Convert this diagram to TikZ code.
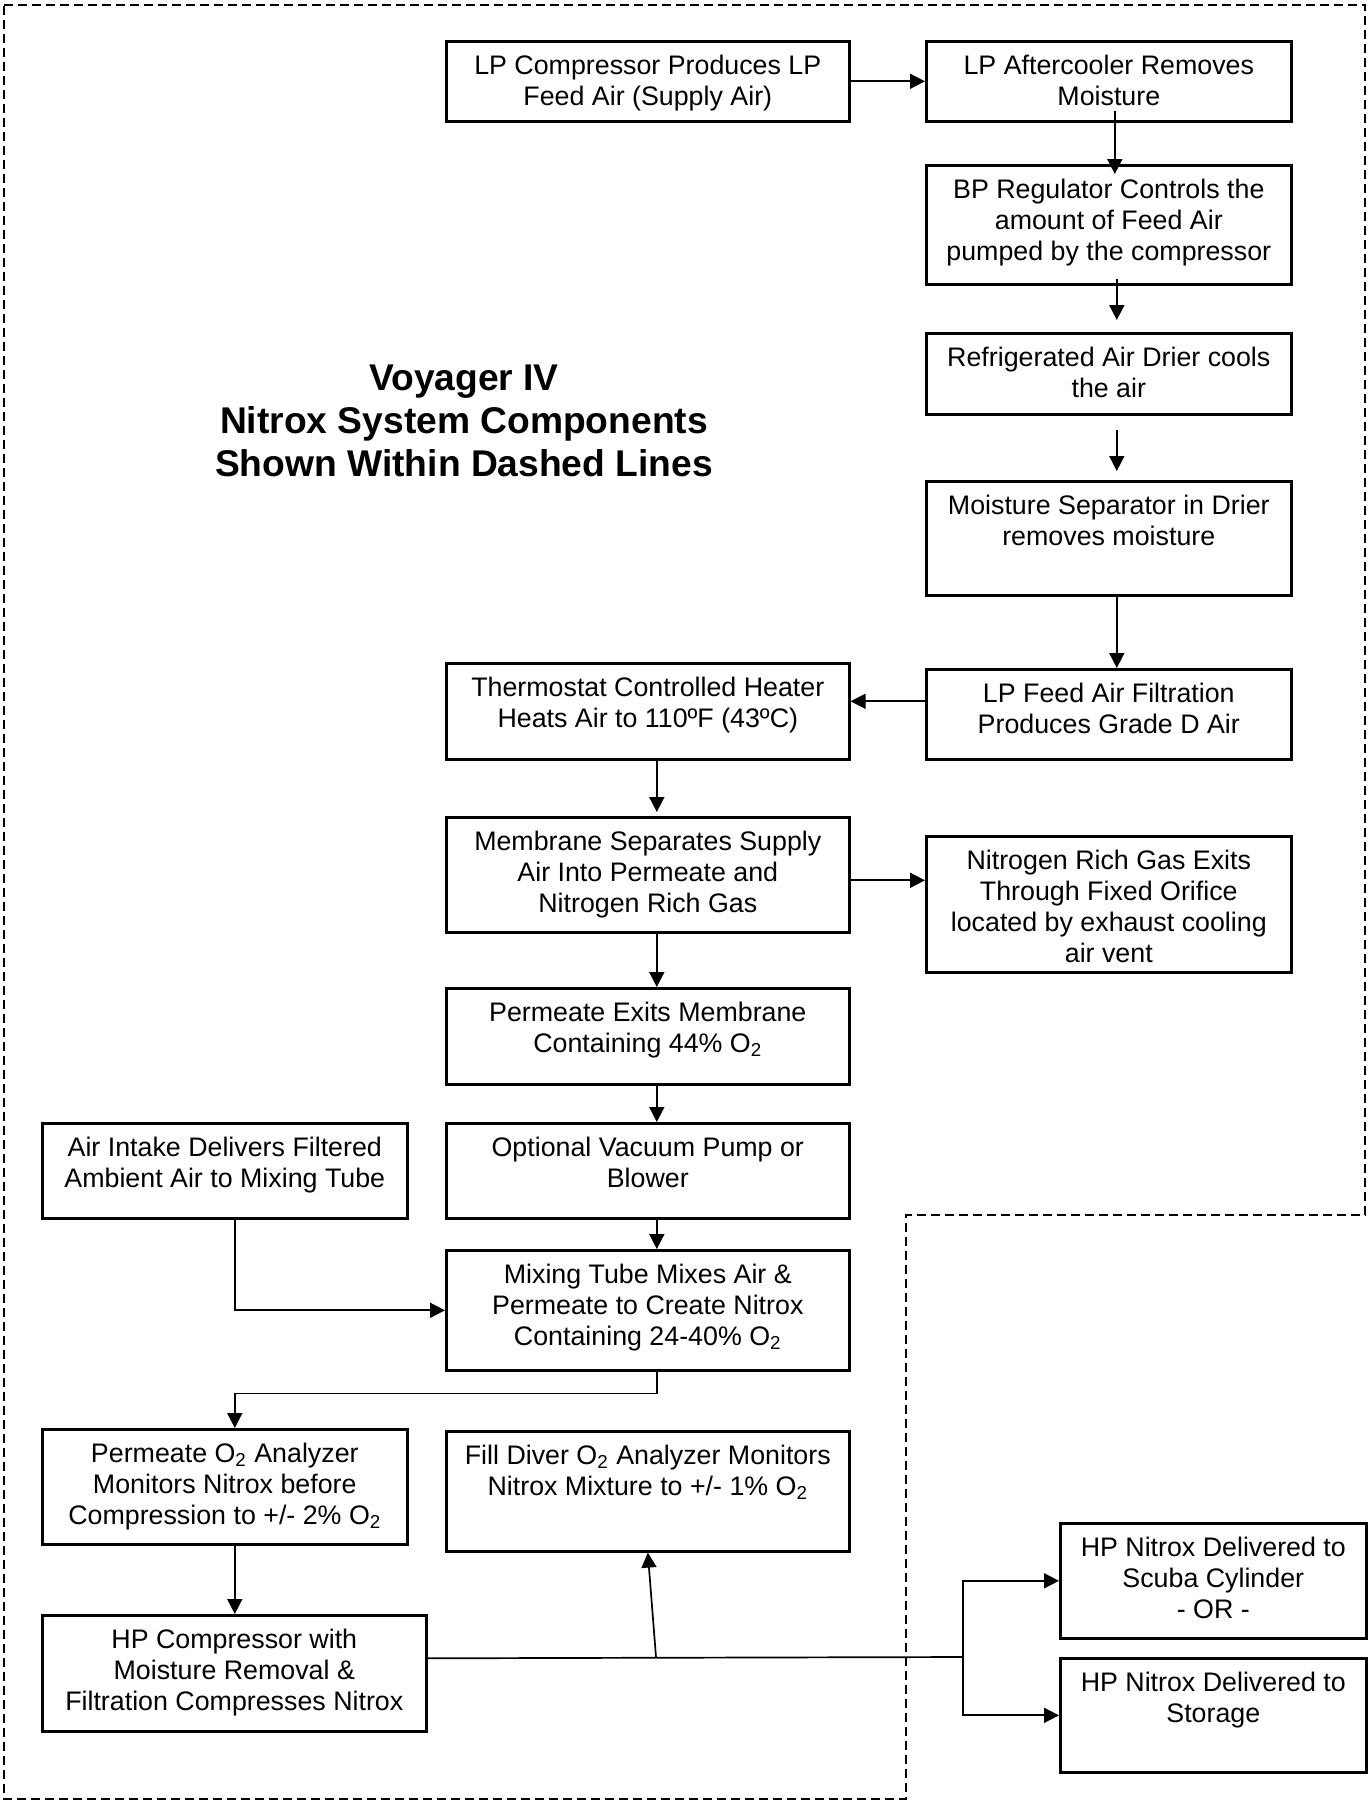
\documentclass[tikz,border=0pt]{standalone}
\usepackage{fontspec}
\setmainfont{Liberation Sans}
\usetikzlibrary{arrows.meta,calc}
\newcommand\boxtxt[3]{\parbox[c][#2][t]{#1}{\centering\rule{0pt}{16.5pt}#3}}

\begin{document}
\begin{tikzpicture}[x=0.5pt,y=-0.5pt,
  stepbox/.style={draw,line width=1.3pt,inner sep=0pt,anchor=north west,font=\fontsize{13.4}{15.5}\selectfont},
  flow/.style={-{Triangle[length=7.5pt,width=7.5pt]},line width=0.85pt},
  pipe/.style={line width=0.85pt}]
\useasboundingbox (0,0) rectangle (1367,1805);
\draw[line width=0.9pt,dash pattern=on 4.5pt off 2.5pt] (4,5) -- (1365,5) -- (1365,1215) -- (906,1215) -- (906,1799) -- (4,1799) -- cycle;

\node[font=\bfseries\fontsize{18.6}{21.5}\selectfont,align=center] (title) at (464,421) {Voyager IV\\Nitrox System Components\\Shown Within Dashed Lines};

\node[stepbox] (lpc) at (445,40) {\boxtxt{201.5pt}{40pt}{LP Compressor Produces LP\\Feed Air (Supply Air)}};
\node[stepbox] (ac) at (925,40) {\boxtxt{182.5pt}{40pt}{LP Aftercooler Removes\\Moisture}};
\node[stepbox] (bp) at (925,164) {\boxtxt{182.5pt}{59.5pt}{BP Regulator Controls the\\amount of Feed Air\\pumped by the compressor}};
\node[stepbox] (rd) at (925,332) {\boxtxt{182.5pt}{40.5pt}{Refrigerated Air Drier cools\\the air}};
\node[stepbox] (ms) at (925,480) {\boxtxt{182.5pt}{57pt}{Moisture Separator in Drier\\removes moisture}};
\node[stepbox] (lpf) at (925,668) {\boxtxt{182.5pt}{45pt}{LP Feed Air Filtration\\Produces Grade D Air}};
\node[stepbox] (th) at (445,662) {\boxtxt{201.5pt}{48pt}{Thermostat Controlled Heater\\Heats Air to 110ºF (43ºC)}};
\node[stepbox] (mem) at (445,816) {\boxtxt{201.5pt}{57.5pt}{Membrane Separates Supply\\Air Into Permeate and\\Nitrogen Rich Gas}};
\node[stepbox] (nr) at (925,835) {\boxtxt{182.5pt}{68pt}{Nitrogen Rich Gas Exits\\Through Fixed Orifice\\located by exhaust cooling\\air vent}};
\node[stepbox] (pe) at (445,987) {\boxtxt{201.5pt}{48pt}{Permeate Exits Membrane\\Containing 44\% O\textsubscript{2}}};
\node[stepbox] (ov) at (445,1122) {\boxtxt{201.5pt}{47.5pt}{Optional Vacuum Pump or\\Blower}};
\node[stepbox] (ai) at (41,1122) {\boxtxt{182.5pt}{47.5pt}{Air Intake Delivers Filtered\\Ambient Air to Mixing Tube}};
\node[stepbox] (mix) at (445,1249) {\boxtxt{201.5pt}{60pt}{Mixing Tube Mixes Air \&\\Permeate to Create Nitrox\\Containing 24-40\% O\textsubscript{2}}};
\node[stepbox] (po) at (41,1428) {\boxtxt{182.5pt}{57.5pt}{Permeate O\textsubscript{2} Analyzer\\Monitors Nitrox before\\Compression to +/- 2\% O\textsubscript{2}}};
\node[stepbox] (fd) at (445,1430) {\boxtxt{201.5pt}{60pt}{Fill Diver O\textsubscript{2} Analyzer Monitors\\Nitrox Mixture to +/- 1\% O\textsubscript{2}}};
\node[stepbox] (hp) at (41,1614) {\boxtxt{192pt}{58pt}{HP Compressor with\\Moisture Removal \&\\Filtration Compresses Nitrox}};
\node[stepbox] (sc) at (1059,1522) {\boxtxt{153pt}{57.5pt}{HP Nitrox Delivered to\\Scuba Cylinder\\- OR -}};
\node[stepbox] (st) at (1059,1657) {\boxtxt{153pt}{57pt}{HP Nitrox Delivered to\\Storage}};

\coordinate (tee) at (656,1657);
\coordinate (split) at (963,1657);

\draw[flow] (lpc) -- (ac);
\draw[flow] ([xshift=3pt,yshift=6pt]ac.south) -- ([xshift=3pt,yshift=-5pt]bp.north);
\draw[flow] ([xshift=4pt,yshift=3.5pt]bp.south) -- ([xshift=4pt,yshift=6pt]rd.north);
\draw[flow] ([xshift=4pt,yshift=-7pt]rd.south) -- ([xshift=4pt,yshift=4.5pt]ms.north);
\draw[flow] ([xshift=4pt]ms.south) -- ([xshift=4pt]lpf.north);
\draw[flow] ([yshift=6.5pt]lpf.west) -- ([yshift=6.5pt]lpf.west -| th.east);
\draw[flow] ([xshift=4.5pt]th.south) -- ([xshift=4.5pt,yshift=2pt]mem.north);
\draw[flow] ([yshift=-2.75pt]mem.east) -- ([yshift=-2.75pt]mem.east -| nr.west);
\draw[flow] ([xshift=4.5pt]mem.south) -- ([xshift=4.5pt]pe.north);
\draw[flow] ([xshift=4.5pt]pe.south) -- ([xshift=4.5pt]ov.north);
\draw[flow] ([xshift=4.5pt]ov.south) -- ([xshift=4.5pt]mix.north);
\draw[flow] ([xshift=5pt]ai.south) |- (mix.west);
\draw[flow] ([xshift=4.5pt]mix.south) -- ++(0,22) -| ([xshift=5pt]po.north);
\draw[flow] ([xshift=5pt,yshift=1pt]po.south) -- ([xshift=5pt]po.south |- hp.north);
\draw[pipe] ([yshift=7.5pt]hp.east) -- (split);
\draw[flow] (tee) -- (fd.south);
\draw[flow] (split) |- (sc.west);
\draw[flow] (split) |- (st.west);
\end{tikzpicture}
\end{document}
